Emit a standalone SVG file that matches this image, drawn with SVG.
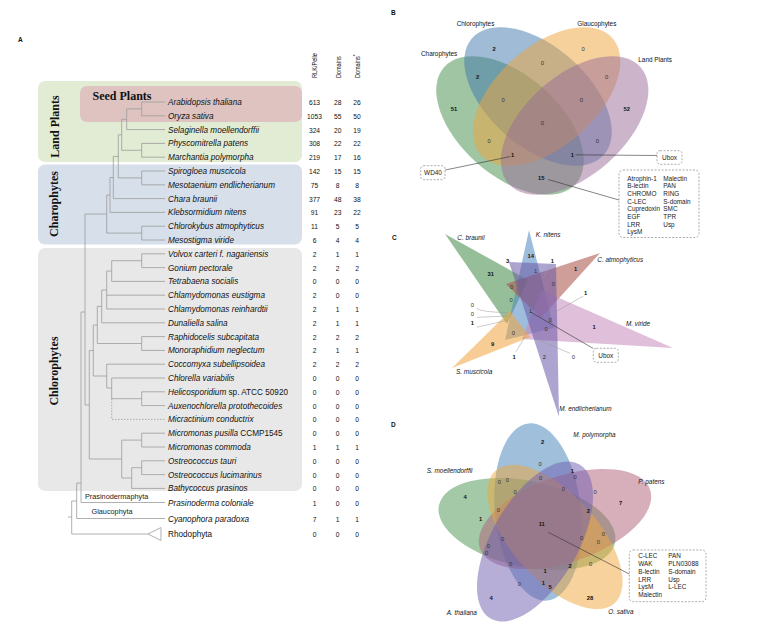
<svg xmlns="http://www.w3.org/2000/svg" width="764" height="622" viewBox="0 0 764 622">
<style>
text{font-family:"Liberation Sans",Arial,Helvetica,sans-serif;fill:#111}
.sp{font-size:8.2px;font-style:italic}
.up{font-style:normal}
.num{font-size:6.7px;text-anchor:middle}
.hdr{font-size:8px}
.plet{font-size:6.5px;font-weight:bold}
.clab{font-family:"Liberation Serif","Times New Roman",serif;font-weight:bold;font-size:12px;text-anchor:middle}
.tree{stroke:#9c9c9c;stroke-width:0.8;fill:none}
.phy{font-size:7.3px;fill:#222}
.v0{font-size:5.8px;text-anchor:middle;fill:#333}
.v1{font-size:5.8px;text-anchor:middle;font-weight:bold;fill:#111}
.set{font-size:6.4px}
.it{font-style:italic}
.bx{fill:none;stroke:#888;stroke-width:0.7;stroke-dasharray:2 1.5}
.bt{font-size:6.4px;fill:#222}
.ld{stroke:#999;stroke-width:0.5;fill:none}
.ldk{stroke:#333;stroke-width:0.6;fill:none}
</style>

<!-- ===== Panel A ===== -->
<g id="panelA">
  <text class="plet" x="18" y="42">A</text>
  <g id="clade-boxes">
    <rect x="38" y="81" width="264" height="81" rx="7" fill="#e2ebd3"/>
    <rect x="80" y="86" width="222" height="36" rx="7" fill="#dec3c0"/>
    <rect x="38" y="164.5" width="264" height="80" rx="7" fill="#d6dfea"/>
    <rect x="38" y="248" width="264" height="243" rx="7" fill="#e8e8e8"/>
    <text class="clab" transform="translate(58.5,126.5) rotate(-90)" fill="#8a8674">Land Plants</text>
    <text class="clab" x="122" y="100" fill="#7e6d6a">Seed Plants</text>
    <text class="clab" transform="translate(57.5,204) rotate(-90)" fill="#8b8d9b">Charophytes</text>
    <text class="clab" transform="translate(57.5,371) rotate(-90)" fill="#909090">Chlorophytes</text>
  </g>

  <g id="headers">
    <text class="hdr" transform="translate(317.3,78) rotate(-90)" textLength="25" lengthAdjust="spacingAndGlyphs">RLK/Pelle</text>
    <text class="hdr" transform="translate(340.5,78) rotate(-90)" textLength="21.7" lengthAdjust="spacingAndGlyphs">Domains</text>
    <text class="hdr" transform="translate(360,78) rotate(-90)"><tspan textLength="21.7" lengthAdjust="spacingAndGlyphs">Domains</tspan><tspan font-size="5" dy="-2.8">*</tspan></text>
  </g>

  <g id="tree">
    <path class="tree" d="M141.7,102V115.8M141.7,102H165M141.7,115.8H165
    M126.7,108.9H141.7M126.7,108.9V129.6H165
    M141.7,143.4V157.2M141.7,143.4H165M141.7,157.2H165
    M121.7,119.3H126.7M121.7,119.3V150.3H141.7
    M141.7,171V184.8M141.7,171H165M141.7,184.8H165
    M118.3,134.8H121.7M118.3,134.8V177.9H141.7
    M113.3,156.4H118.3M113.3,156.4V198.6H165
    M110,177.5H113.3M110,177.5V212.4H165
    M141.7,226.2V240M141.7,226.2H165M141.7,240H165
    M106.7,195H110M106.7,195V233.1H141.7
    M85,214H106.7
    M141.7,253.8V267.6M141.7,253.8H165M141.7,267.6H165
    M111.7,260.7H141.7M111.7,260.7V281.4H165
    M106.7,271H111.7M106.7,271V309H165M106.7,295.2H165
    M101.7,290H106.7M101.7,290V322.8H165
    M141.7,336.6V350.4M141.7,336.6H165M141.7,350.4H165
    M97.3,306.4H101.7M97.3,306.4V343.5H141.7
    M141.7,391.8V405.6M141.7,391.8H165M141.7,405.6H165
    M111.7,378H165M111.7,378V398.7H141.7
    M106.7,364.2H165M106.7,364.2V388H111.7
    M93.3,325H97.3M93.3,325V376H106.7
    M141.7,433.2V447M141.7,433.2H165M141.7,447H165
    M141.7,460.8V474.6M141.7,460.8H165M141.7,474.6H165
    M131.7,467.7H141.7M131.7,467.7V488.4H165
    M121.7,440.1H141.7M121.7,440.1V478H131.7
    M89.3,350.5H93.3M89.3,350.5V459H121.7
    M85,214V405H89.3
    M81,312H85M81,312V502.5H165
    M76.7,483H81M76.7,483V518.5H165
    M71.7,501H76.7M71.7,501V534H148
    M68,517H71.7
    M148,534L161,527.5V540.5Z"/>
    <path class="tree" stroke-dasharray="1.5 1.5" d="M111.7,398.7V419.4H165"/>
    <text class="phy" x="85" y="498.5">Prasinodermaphyta</text>
    <text class="phy" x="91.5" y="514">Glaucophyta</text>
  </g>

  <g id="taxa">
    <g id="t-ath"><text class="sp" x="168" y="105">Arabidopsis thaliana</text><text class="num" y="105"><tspan x="314.5">613</tspan><tspan x="337.7">28</tspan><tspan x="357">26</tspan></text></g>
    <g id="t-osa"><text class="sp" x="168" y="118.8">Oryza sativa</text><text class="num" y="118.8"><tspan x="314.5">1053</tspan><tspan x="337.7">55</tspan><tspan x="357">50</tspan></text></g>
    <g id="t-smo"><text class="sp" x="168" y="132.6">Selaginella moellendorffii</text><text class="num" y="132.6"><tspan x="314.5">324</tspan><tspan x="337.7">20</tspan><tspan x="357">19</tspan></text></g>
    <g id="t-ppa"><text class="sp" x="168" y="146.4">Physcomitrella patens</text><text class="num" y="146.4"><tspan x="314.5">308</tspan><tspan x="337.7">22</tspan><tspan x="357">22</tspan></text></g>
    <g id="t-mpo"><text class="sp" x="168" y="160.2">Marchantia polymorpha</text><text class="num" y="160.2"><tspan x="314.5">219</tspan><tspan x="337.7">17</tspan><tspan x="357">16</tspan></text></g>
    <g id="t-smu"><text class="sp" x="168" y="174">Spirogloea muscicola</text><text class="num" y="174"><tspan x="314.5">142</tspan><tspan x="337.7">15</tspan><tspan x="357">15</tspan></text></g>
    <g id="t-men"><text class="sp" x="168" y="187.8">Mesotaenium endlicherianum</text><text class="num" y="187.8"><tspan x="314.5">75</tspan><tspan x="337.7">8</tspan><tspan x="357">8</tspan></text></g>
    <g id="t-cbr"><text class="sp" x="168" y="201.6">Chara braunii</text><text class="num" y="201.6"><tspan x="314.5">377</tspan><tspan x="337.7">48</tspan><tspan x="357">38</tspan></text></g>
    <g id="t-kni"><text class="sp" x="168" y="215.4">Klebsormidium nitens</text><text class="num" y="215.4"><tspan x="314.5">91</tspan><tspan x="337.7">23</tspan><tspan x="357">22</tspan></text></g>
    <g id="t-cat"><text class="sp" x="168" y="229.2">Chlorokybus atmophyticus</text><text class="num" y="229.2"><tspan x="314.5">11</tspan><tspan x="337.7">5</tspan><tspan x="357">5</tspan></text></g>
    <g id="t-mvi"><text class="sp" x="168" y="243">Mesostigma viride</text><text class="num" y="243"><tspan x="314.5">6</tspan><tspan x="337.7">4</tspan><tspan x="357">4</tspan></text></g>
    <g id="t-vca"><text class="sp" x="168" y="256.8">Volvox carteri f. nagariensis</text><text class="num" y="256.8"><tspan x="314.5">2</tspan><tspan x="337.7">1</tspan><tspan x="357">1</tspan></text></g>
    <g id="t-gpe"><text class="sp" x="168" y="270.6">Gonium pectorale</text><text class="num" y="270.6"><tspan x="314.5">2</tspan><tspan x="337.7">2</tspan><tspan x="357">2</tspan></text></g>
    <g id="t-tso"><text class="sp" x="168" y="284.4">Tetrabaena socialis</text><text class="num" y="284.4"><tspan x="314.5">0</tspan><tspan x="337.7">0</tspan><tspan x="357">0</tspan></text></g>
    <g id="t-ceu"><text class="sp" x="168" y="298.2">Chlamydomonas eustigma</text><text class="num" y="298.2"><tspan x="314.5">2</tspan><tspan x="337.7">0</tspan><tspan x="357">0</tspan></text></g>
    <g id="t-cre"><text class="sp" x="168" y="312">Chlamydomonas reinhardtii</text><text class="num" y="312"><tspan x="314.5">2</tspan><tspan x="337.7">1</tspan><tspan x="357">1</tspan></text></g>
    <g id="t-dsa"><text class="sp" x="168" y="325.8">Dunaliella salina</text><text class="num" y="325.8"><tspan x="314.5">2</tspan><tspan x="337.7">1</tspan><tspan x="357">1</tspan></text></g>
    <g id="t-rsu"><text class="sp" x="168" y="339.6">Raphidocelis subcapitata</text><text class="num" y="339.6"><tspan x="314.5">2</tspan><tspan x="337.7">2</tspan><tspan x="357">2</tspan></text></g>
    <g id="t-mne"><text class="sp" x="168" y="353.4">Monoraphidium neglectum</text><text class="num" y="353.4"><tspan x="314.5">2</tspan><tspan x="337.7">1</tspan><tspan x="357">1</tspan></text></g>
    <g id="t-csu"><text class="sp" x="168" y="367.2">Coccomyxa subellipsoidea</text><text class="num" y="367.2"><tspan x="314.5">2</tspan><tspan x="337.7">2</tspan><tspan x="357">2</tspan></text></g>
    <g id="t-cva"><text class="sp" x="168" y="381">Chlorella variabilis</text><text class="num" y="381"><tspan x="314.5">0</tspan><tspan x="337.7">0</tspan><tspan x="357">0</tspan></text></g>
    <g id="t-hel"><text class="sp" x="168" y="394.8">Helicosporidium<tspan class="up"> sp. ATCC 50920</tspan></text><text class="num" y="394.8"><tspan x="314.5">0</tspan><tspan x="337.7">0</tspan><tspan x="357">0</tspan></text></g>
    <g id="t-apr"><text class="sp" x="168" y="408.6">Auxenochlorella protothecoides</text><text class="num" y="408.6"><tspan x="314.5">0</tspan><tspan x="337.7">0</tspan><tspan x="357">0</tspan></text></g>
    <g id="t-mco"><text class="sp" x="168" y="422.4">Micractinium conductrix</text><text class="num" y="422.4"><tspan x="314.5">0</tspan><tspan x="337.7">0</tspan><tspan x="357">0</tspan></text></g>
    <g id="t-mpu"><text class="sp" x="168" y="436.2">Micromonas pusilla<tspan class="up"> CCMP1545</tspan></text><text class="num" y="436.2"><tspan x="314.5">0</tspan><tspan x="337.7">0</tspan><tspan x="357">0</tspan></text></g>
    <g id="t-mcm"><text class="sp" x="168" y="450">Micromonas commoda</text><text class="num" y="450"><tspan x="314.5">1</tspan><tspan x="337.7">1</tspan><tspan x="357">1</tspan></text></g>
    <g id="t-ota"><text class="sp" x="168" y="463.8">Ostreococcus tauri</text><text class="num" y="463.8"><tspan x="314.5">0</tspan><tspan x="337.7">0</tspan><tspan x="357">0</tspan></text></g>
    <g id="t-olu"><text class="sp" x="168" y="477.6">Ostreococcus lucimarinus</text><text class="num" y="477.6"><tspan x="314.5">0</tspan><tspan x="337.7">0</tspan><tspan x="357">0</tspan></text></g>
    <g id="t-bpr"><text class="sp" x="168" y="491.4">Bathycoccus prasinos</text><text class="num" y="491.4"><tspan x="314.5">0</tspan><tspan x="337.7">0</tspan><tspan x="357">0</tspan></text></g>
    <g id="t-pco"><text class="sp" x="168" y="505.5">Prasinoderma coloniale</text><text class="num" y="505.5"><tspan x="314.5">1</tspan><tspan x="337.7">0</tspan><tspan x="357">0</tspan></text></g>
    <g id="t-cpa"><text class="sp" x="168" y="521.5">Cyanophora paradoxa</text><text class="num" y="521.5"><tspan x="314.5">7</tspan><tspan x="337.7">1</tspan><tspan x="357">1</tspan></text></g>
    <g id="t-rho"><text class="sp up" x="168" y="537">Rhodophyta</text><text class="num" y="537"><tspan x="314.5">0</tspan><tspan x="337.7">0</tspan><tspan x="357">0</tspan></text></g>
  </g>
</g>

<!-- ===== Panel B ===== -->
<g id="panelB">
  <text class="plet" x="391" y="15">B</text>
  <g id="B-sets" fill-opacity="0.5">
    <ellipse id="B-charophytes" rx="88" ry="50" transform="translate(510,125.5) rotate(41.5)" fill="#3f8c47"/>
    <ellipse id="B-chlorophytes" rx="88" ry="50" transform="translate(538,96.5) rotate(41.5)" fill="#3f78ae"/>
    <ellipse id="B-glaucophytes" rx="88" ry="50" transform="translate(546.6,96.5) rotate(-41.5)" fill="#f0a43a"/>
    <ellipse id="B-landplants" rx="88" ry="50" transform="translate(574.6,125.5) rotate(-41.5)" fill="#9a6b98"/>
  </g>
  <text class="set" x="421" y="56" fill="#5f9a63">Charophytes</text>
  <text class="set" x="456.7" y="26" fill="#4d7fae">Chlorophytes</text>
  <text class="set" x="577.3" y="26" fill="#e4a13c">Glaucophytes</text>
  <text class="set" x="638.3" y="62" fill="#9a6e98">Land Plants</text>
  <g id="B-counts">
    <text class="v1" x="454" y="111">51</text>
    <text class="v1" x="494" y="51">2</text>
    <text class="v0" x="583" y="51">0</text>
    <text class="v1" x="626.7" y="111">52</text>
    <text class="v1" x="477.7" y="79">2</text>
    <text class="v0" x="542.3" y="65">0</text>
    <text class="v0" x="606.7" y="79">0</text>
    <text class="v0" x="503" y="102">0</text>
    <text class="v0" x="581.3" y="102">0</text>
    <text class="v0" x="542.3" y="125.3">0</text>
    <text class="v0" x="489" y="143">0</text>
    <text class="v0" x="597.3" y="143">0</text>
    <text class="v1" x="512.7" y="157">1</text>
    <text class="v1" x="572.3" y="157">1</text>
    <text class="v1" x="541.3" y="180">15</text>
  </g>
  <g id="B-connectors">
    <path class="ldk" d="M445.3,170L510.5,156.5"/>
    <path class="ldk" d="M575.5,154.8L657,155.5"/>
    <path class="ldk" d="M548,179.5L619,200"/>
  </g>
  <g id="B-wd40"><rect class="bx" x="420.7" y="165.7" width="24.3" height="14" rx="3"/><text class="bt" x="433" y="175.2" text-anchor="middle">WD40</text></g>
  <g id="B-ubox"><rect class="bx" x="657" y="150.7" width="25" height="13.6" rx="3"/><text class="bt" x="669.5" y="159.8" text-anchor="middle">Ubox</text></g>
  <g id="B-list">
    <rect class="bx" x="619" y="170" width="80" height="67.5" rx="4"/>
    <text class="bt" x="627.3" y="180.5">Atrophin-1</text>
    <text class="bt" x="627.3" y="188.2">B-lectin</text>
    <text class="bt" x="627.3" y="195.9">CHROMO</text>
    <text class="bt" x="627.3" y="203.6">C-LEC</text>
    <text class="bt" x="627.3" y="211.3">Cupredoxin</text>
    <text class="bt" x="627.3" y="219">EGF</text>
    <text class="bt" x="627.3" y="226.7">LRR</text>
    <text class="bt" x="627.3" y="234.4">LysM</text>
    <text class="bt" x="663.3" y="180.5">Malectin</text>
    <text class="bt" x="663.3" y="188.2">PAN</text>
    <text class="bt" x="663.3" y="195.9">RING</text>
    <text class="bt" x="663.3" y="203.6">S-domain</text>
    <text class="bt" x="663.3" y="211.3">SMC</text>
    <text class="bt" x="663.3" y="219">TPR</text>
    <text class="bt" x="663.3" y="226.7">Usp</text>
  </g>
</g>

<!-- ===== Panel C ===== -->
<g id="panelC">
  <text class="plet" x="392" y="240">C</text>
  <g id="C-sets" fill-opacity="0.55">
    <polygon id="C-cbraunii" points="445,234 528,280 507,324" fill="#3f8a46"/>
    <polygon id="C-knitens" points="529,230 505,340 554,328" fill="#4f86c0"/>
    <polygon id="C-catmo" points="600,253 506,284 541,318" fill="#a94e46"/>
    <polygon id="C-mviride" points="673,348 541,290 522,339" fill="#c48ab9"/>
    <polygon id="C-mendl" points="559,417 509,262 556,264" fill="#6a5aa8"/>
    <polygon id="C-smusc" points="452,368 510,311 530,337" fill="#f0a43e"/>
  </g>
  <text class="set it" x="457.3" y="240" fill="#5a9a5f">C. braunii</text>
  <text class="set it" x="535.7" y="237" fill="#4f80b8">K. nitens</text>
  <text class="set it" x="597.3" y="262.3" fill="#b25c55">C. atmophyticus</text>
  <text class="set it" x="626" y="326" fill="#c28ab7">M. viride</text>
  <text class="set it" x="559.3" y="411.3" fill="#6e5ea6">M. endlicherianum</text>
  <text class="set it" x="456" y="373.7" fill="#eea244">S. muscicola</text>
  <g id="C-connectors">
    <path class="ld" d="M510,265L520,277.3"/>
    <path class="ld" d="M551,264L543.3,278.3"/>
    <path class="ld" d="M583.3,296L550,315"/>
    <path class="ld" d="M476.7,308.3Q480,312 508.3,312.7"/>
    <path class="ld" d="M476.7,317.3L508.3,316"/>
    <path class="ld" d="M476.7,327.3L508.3,320"/>
    <path class="ld" d="M516,351.7L525,336.7"/>
    <path class="ld" d="M570,353.3L535,338.3"/>
    <path class="ldk" d="M530,311.7L593.3,348.5"/>
  </g>
  <g id="C-counts">
    <text class="v1" x="490.7" y="276.3">31</text>
    <text class="v1" x="507.7" y="262.7">3</text>
    <text class="v1" x="530.7" y="257.7">14</text>
    <text class="v1" x="552.3" y="262.7">1</text>
    <text class="v1" x="575.7" y="271.3">1</text>
    <text class="v0" x="535.7" y="272.7">1</text>
    <text class="v0" x="511.7" y="288.7">0</text>
    <text class="v0" x="553.3" y="286.3">0</text>
    <text class="v1" x="585.7" y="295.3">1</text>
    <text class="v0" x="511" y="302">0</text>
    <text class="v0" x="472.3" y="307">0</text>
    <text class="v0" x="472.3" y="316">0</text>
    <text class="v1" x="472.3" y="325.3">1</text>
    <text class="v0" x="530.7" y="313">1</text>
    <text class="v0" x="550" y="322">0</text>
    <text class="v0" x="546" y="331.3">0</text>
    <text class="v0" x="513.3" y="335.3">0</text>
    <text class="v1" x="594" y="329.3">1</text>
    <text class="v1" x="492.7" y="346">9</text>
    <text class="v1" x="514" y="358.7">1</text>
    <text class="v0" x="544.3" y="359.3">2</text>
    <text class="v0" x="573.3" y="358.7">0</text>
  </g>
  <g id="C-ubox"><rect class="bx" x="593.3" y="348.3" width="25" height="14" rx="3"/><text class="bt" x="605.8" y="357.6" text-anchor="middle">Ubox</text></g>
</g>

<!-- ===== Panel D ===== -->
<g id="panelD">
  <text class="plet" x="391" y="427">D</text>
  <g id="D-sets" fill-opacity="0.5">
    <ellipse id="D-smoe" rx="43" ry="90" transform="translate(527,524) rotate(-78)" fill="#4a9450"/>
    <ellipse id="D-mpol" rx="43" ry="89" transform="translate(538,512) rotate(-6)" fill="#4080b8"/>
    <ellipse id="D-ppat" rx="43" ry="90" transform="translate(565,519) rotate(71)" fill="#ad5f78"/>
    <ellipse id="D-osat" rx="43" ry="89" transform="translate(555,537) rotate(138)" fill="#f0a53a"/>
    <ellipse id="D-atha" rx="43" ry="89" transform="translate(535,541.5) rotate(-150)" fill="#6f5eb0"/>
  </g>
  <text class="set it" x="573.3" y="436.5" fill="#3f74aa">M. polymorpha</text>
  <text class="set it" x="426.7" y="473.3" fill="#4b8b4f">S. moellendorffii</text>
  <text class="set it" x="638.3" y="484.3" fill="#a9586c">P. patens</text>
  <text class="set it" x="446.7" y="615" fill="#6b5aa6">A. thaliana</text>
  <text class="set it" x="608.3" y="614" fill="#e39a32">O. sativa</text>
  <g id="D-counts">
    <text class="v1" x="542.7" y="444.3">2</text>
    <text class="v0" x="540" y="466.3">0</text>
    <text class="v1" x="572.3" y="472.7">1</text>
    <text class="v0" x="499.3" y="483.7">0</text>
    <text class="v0" x="507.3" y="482">0</text>
    <text class="v0" x="540.7" y="480.3">0</text>
    <text class="v0" x="575" y="479.3">0</text>
    <text class="v0" x="515" y="493.7">0</text>
    <text class="v0" x="563.3" y="491.3">0</text>
    <text class="v0" x="595" y="493.7">0</text>
    <text class="v1" x="465" y="499.3">4</text>
    <text class="v1" x="620.7" y="504.7">7</text>
    <text class="v1" x="588.3" y="512.7">2</text>
    <text class="v0" x="498.3" y="512">0</text>
    <text class="v1" x="480.7" y="521.3">1</text>
    <text class="v1" x="541.7" y="526.3">11</text>
    <text class="v0" x="502.7" y="541.3">0</text>
    <text class="v0" x="581.7" y="539.7">0</text>
    <text class="v0" x="603.3" y="536.3">0</text>
    <text class="v0" x="598.3" y="543.7">0</text>
    <text class="v0" x="488.3" y="547.7">0</text>
    <text class="v0" x="486.7" y="554.7">0</text>
    <text class="v0" x="510.7" y="566">0</text>
    <text class="v1" x="570" y="567.7">2</text>
    <text class="v0" x="590.7" y="566">0</text>
    <text class="v1" x="545" y="572.7">1</text>
    <text class="v0" x="519.3" y="586">0</text>
    <text class="v1" x="543.3" y="584.7">1</text>
    <text class="v1" x="550" y="588.7">5</text>
    <text class="v1" x="491" y="600.3">4</text>
    <text class="v1" x="590" y="600.3">28</text>
  </g>
  <g id="D-connectors"><path class="ldk" d="M548.3,532.3L629.3,574"/></g>
  <g id="D-list">
    <rect class="bx" x="629.3" y="550" width="76.7" height="51.7" rx="4"/>
    <text class="bt" x="638.3" y="558.2">C-LEC</text>
    <text class="bt" x="638.3" y="566">WAK</text>
    <text class="bt" x="638.3" y="573.8">B-lectin</text>
    <text class="bt" x="638.3" y="581.6">LRR</text>
    <text class="bt" x="638.3" y="589.4">LysM</text>
    <text class="bt" x="638.3" y="597.2">Malectin</text>
    <text class="bt" x="668.3" y="558.2">PAN</text>
    <text class="bt" x="668.3" y="566">PLN03088</text>
    <text class="bt" x="668.3" y="573.8">S-domain</text>
    <text class="bt" x="668.3" y="581.6">Usp</text>
    <text class="bt" x="668.3" y="589.4">L-LEC</text>
  </g>
</g>
</svg>
